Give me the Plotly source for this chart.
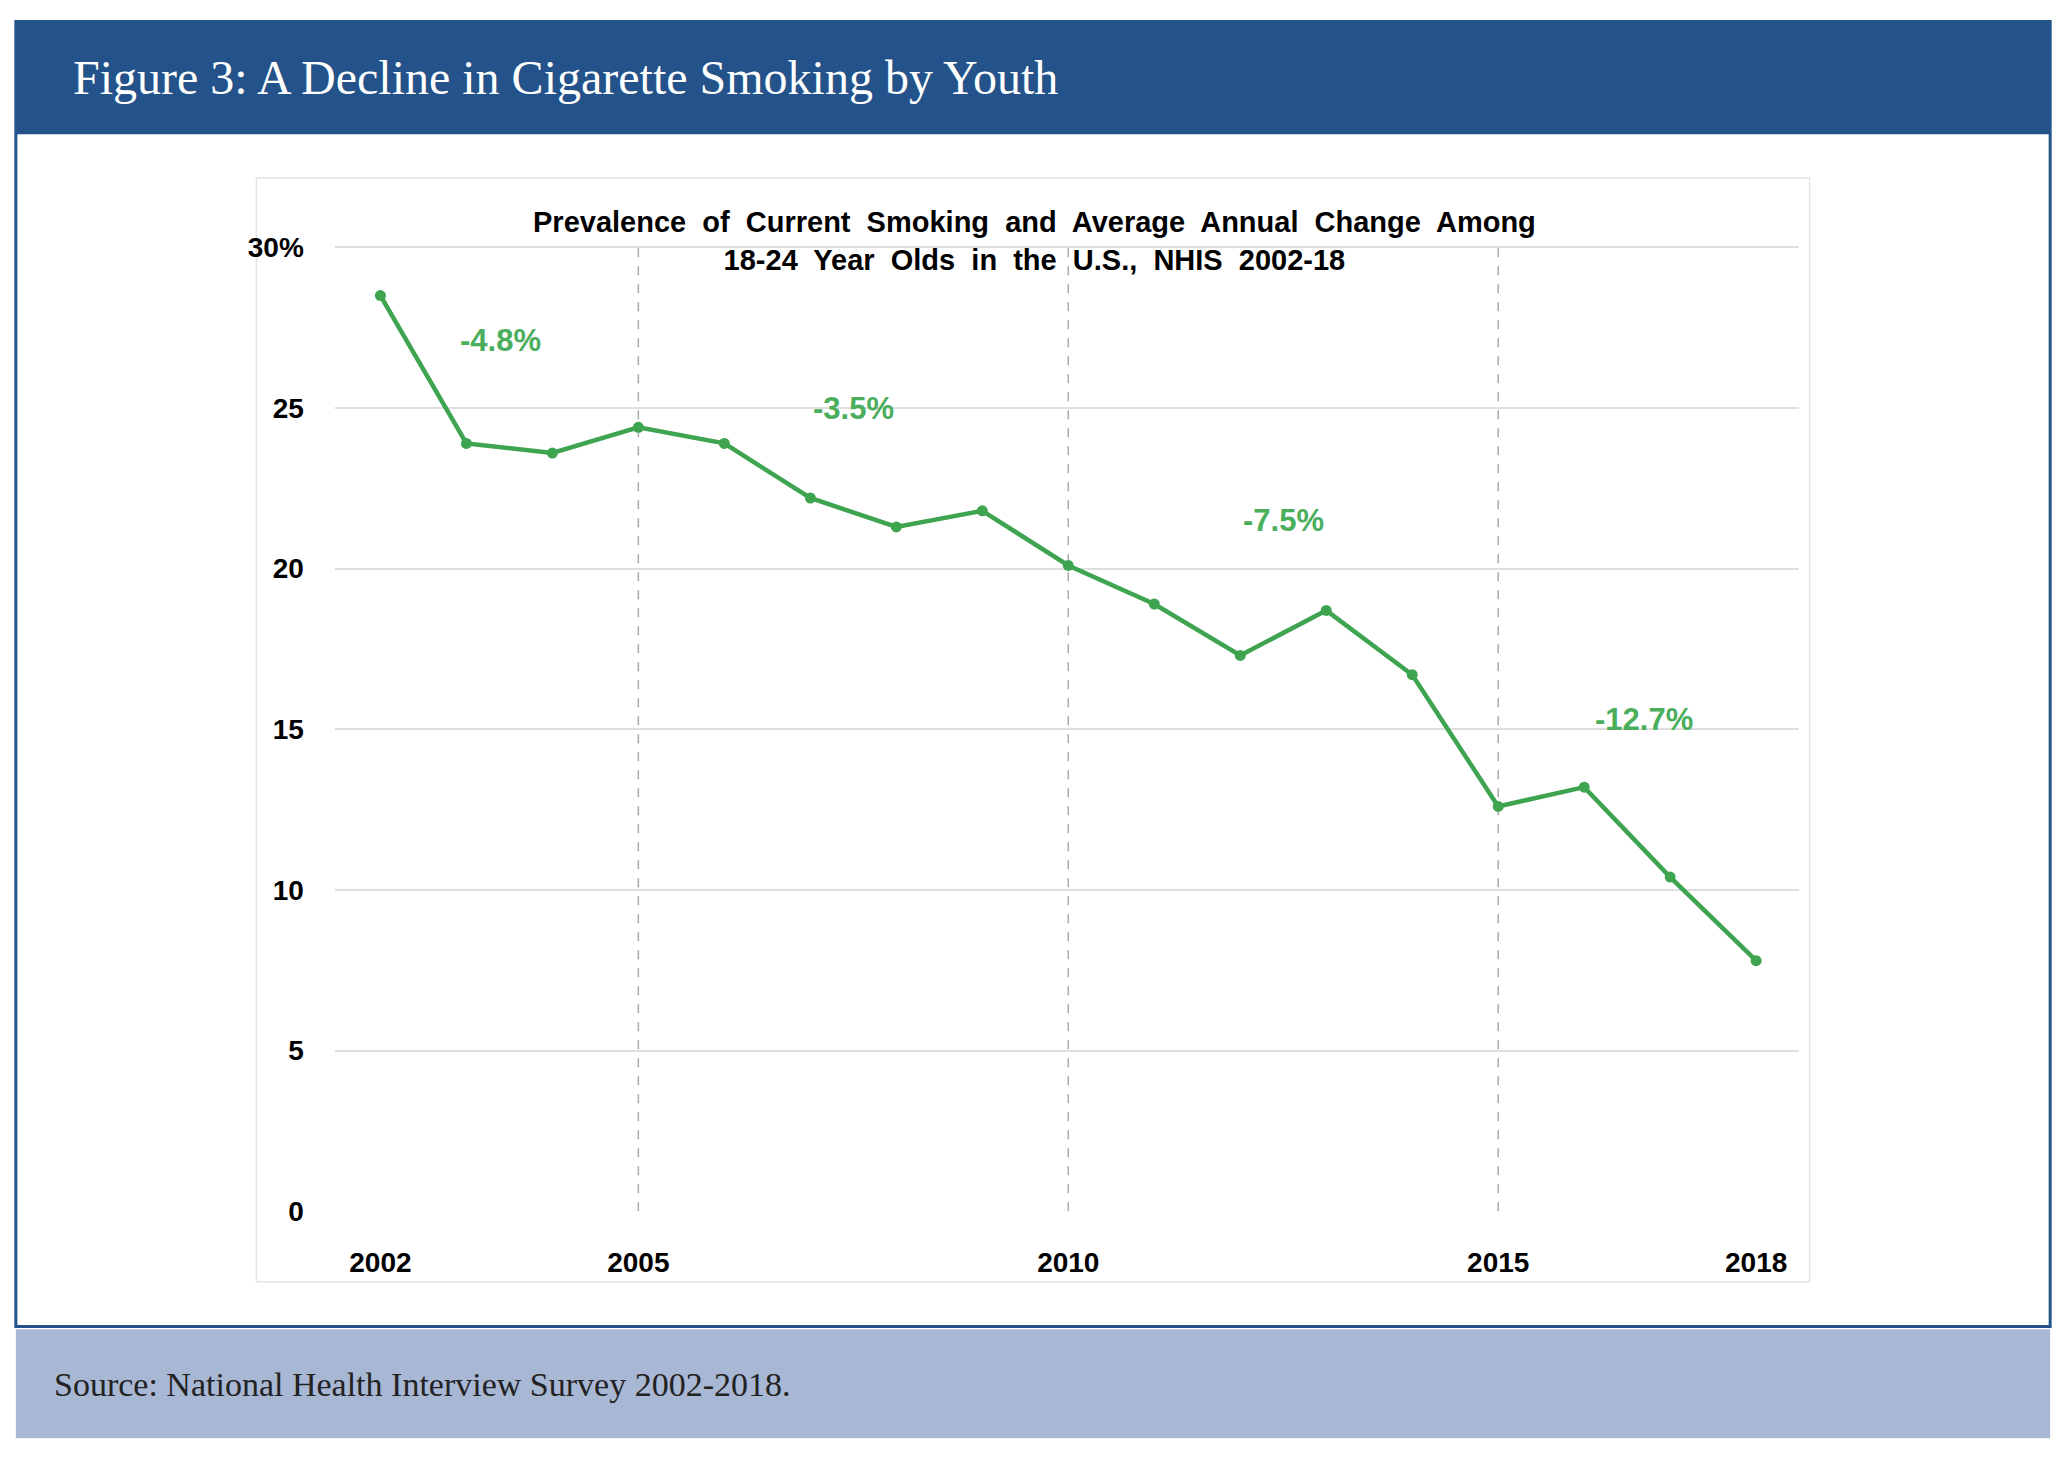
import plotly.graph_objects as go

years = list(range(2002, 2019))
prevalence = [28.5, 23.9, 23.6, 24.4, 23.9, 22.2, 21.3, 21.8, 20.1, 18.9, 17.3, 18.7, 16.7, 12.6, 13.2, 10.4, 7.8]

change_labels = ["-4.8%", "-3.5%", "-7.5%", "-12.7%"]
change_x = [2003.4, 2007.5, 2012.5, 2016.7]
change_y = [27.1, 25.0, 21.5, 15.3]

period_breaks = [2005, 2010, 2015]
x_ticks = [2002, 2005, 2010, 2015, 2018]
y_ticks = [0, 5, 10, 15, 20, 25, 30]
y_ticktext = ["0", "5", "10", "15", "20", "25", "30%"]

W, H = 1568, 1113
green = "#3ea450"
navy = "#23538a"

def px(x):
    return x / W

def py(y):
    return 1 - y / H

fig = go.Figure()
fig.add_trace(go.Scatter(
    x=years, y=prevalence, mode="lines+markers",
    line=dict(color=green, width=4.5),
    marker=dict(size=11, color=green),
    hoverinfo="x+y", showlegend=False,
))

for lab, x, y in zip(change_labels, change_x, change_y):
    fig.add_annotation(x=x, y=y, text="<b>" + lab + "</b>", showarrow=False,
                       font=dict(color="#4bae5c", size=31, family="Liberation Sans"))

shapes = [
    dict(type="rect", xref="paper", yref="paper", x0=px(6), x1=px(1562), y0=py(1023), y1=py(5),
         line=dict(color=navy, width=3), fillcolor="white", layer="below"),
    dict(type="rect", xref="paper", yref="paper", x0=px(6), x1=px(1562), y0=py(93), y1=py(5),
         line=dict(width=0), fillcolor=navy, layer="below"),
    dict(type="rect", xref="paper", yref="paper", x0=px(6), x1=px(1562), y0=py(1110), y1=py(1025),
         line=dict(width=0), fillcolor="#a8b7d4", layer="below"),
    dict(type="rect", xref="paper", yref="paper", x0=px(190), x1=px(1378), y0=py(988), y1=py(127),
         line=dict(color="#e4e4e4", width=1.5), fillcolor="white", layer="below"),
]
for yr in period_breaks:
    shapes.append(dict(type="line", xref="x", yref="y", x0=yr, x1=yr, y0=0, y1=30.2,
                       line=dict(color="#aaaaaa", width=1.5, dash="dash"), layer="below"))

fig.update_layout(
    width=2050, height=1450,
    margin=dict(l=0, r=0, t=0, b=0),
    paper_bgcolor="white", plot_bgcolor="rgba(0,0,0,0)",
    shapes=shapes,
    xaxis=dict(domain=[px(250), px(1370)], range=[2001.47, 2018.5],
               tickvals=x_ticks, ticktext=["<b>%d</b>" % t for t in x_ticks],
               showgrid=False, zeroline=False, ticks="", ticklabelstandoff=32,
               tickfont=dict(size=28, color="black", family="Liberation Sans")),
    yaxis=dict(domain=[py(933), py(175)], range=[0, 30.25],
               tickvals=y_ticks, ticktext=["<b>%s</b>" % t for t in y_ticktext],
               showgrid=True, gridcolor="#dedede", gridwidth=1.5, zeroline=False,
               ticks="", ticklabelstandoff=30,
               tickfont=dict(size=28, color="black", family="Liberation Sans")),
)

fig.add_annotation(xref="paper", yref="paper", x=px(785), y=py(176), yanchor="middle",
                   text="<b>Prevalence  of  Current  Smoking  and  Average  Annual  Change  Among</b><br><b>18-24  Year  Olds  in  the  U.S.,  NHIS  2002-18</b>",
                   showarrow=False, align="center",
                   font=dict(size=29, color="black", family="Liberation Sans"))
fig.add_annotation(xref="paper", yref="paper", x=px(48), y=py(49), xanchor="left", yanchor="middle",
                   text="Figure 3: A Decline in Cigarette Smoking by Youth", showarrow=False,
                   font=dict(size=48, color="white", family="Liberation Serif"))
fig.add_annotation(xref="paper", yref="paper", x=px(34), y=py(1068), xanchor="left", yanchor="middle",
                   text="Source: National Health Interview Survey 2002-2018.", showarrow=False,
                   font=dict(size=34, color="#222222", family="Liberation Serif"))

fig.write_html("out.html")
